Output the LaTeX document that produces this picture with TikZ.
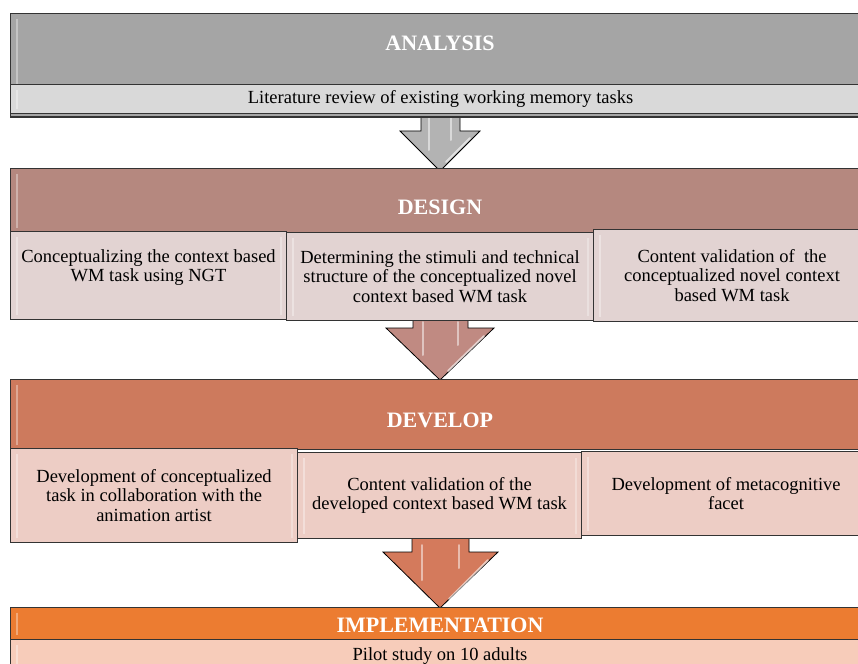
\documentclass[tikz,border=0pt]{standalone}
\usepackage{fontspec}
\setmainfont{Liberation Serif}
\usetikzlibrary{calc}
\definecolor{edge}{HTML}{333333}
\definecolor{anaHead}{HTML}{A5A5A5}
\definecolor{anaSub}{HTML}{D9D9D9}
\definecolor{desHead}{HTML}{B5887F}
\definecolor{desSub}{HTML}{E2D3D2}
\definecolor{devHead}{HTML}{CD7A5D}
\definecolor{devSub}{HTML}{EDCDC5}
\definecolor{impHead}{HTML}{EC7C31}
\definecolor{impSub}{HTML}{F7CCBA}
\definecolor{arrGray}{HTML}{B3B3B3}
\definecolor{arrRose}{HTML}{C08A82}
\definecolor{arrTerra}{HTML}{D47A5C}
\tikzset{
  bevel/.style={path picture={
    \draw[white,opacity=0.35,line width=2pt]
      ([xshift=6pt,yshift=-5pt]path picture bounding box.north west) --
      ([xshift=6pt,yshift=5pt]path picture bounding box.south west);
    \draw[white,opacity=0.3,line width=2pt]
      ([xshift=-6pt,yshift=-5pt]path picture bounding box.north east) --
      ([xshift=-6pt,yshift=5pt]path picture bounding box.south east);}},
  phasehead/.style={draw=edge,line width=1.1pt,rectangle,anchor=north west,
    inner sep=0pt,bevel},
  headtext/.style={text=white,font=\fontsize{22}{25}\selectfont\bfseries},
  subbox/.style={draw=edge,line width=1.1pt,rectangle,anchor=north west,
    inner sep=2pt,align=center,text=black,font=\fontsize{18.5}{19.5}\selectfont,bevel},
  blockarrow/.style={draw=black,line width=0.8pt,fill=#1,line join=miter},
  shine/.style={white,opacity=0.5,line width=2pt,line cap=round}
}
\begin{document}
\begin{tikzpicture}[x=1pt,y=-1pt]
\useasboundingbox (0,0) rectangle (858,663);
\clip (0,0) rectangle (858,663);

% ---- block arrows (drawn first, boxes sit over their ends)
\coordinate (t1) at (440,171);
\coordinate (t2) at (440,380);
\coordinate (t3) at (440,608);
\draw[blockarrow=arrGray] (421,110) -- (460,110) -- (460,131) -- (480,131) -- (t1) -- (400,131) -- (421,131) -- cycle;
\draw[shine] (429,118) -- (429,150);
\draw[shine] (451,118) -- (451,140);
\draw[shine,opacity=0.6] (470,138) -- (446,162);

\draw[blockarrow=arrRose] (413,300) -- (468,300) -- (468,328) -- (494,328) -- (t2) -- (386,328) -- (413,328) -- cycle;
\draw[shine] (423,322) -- (423,355);
\draw[shine] (458,322) -- (458,345);
\draw[shine,opacity=0.6] (484,336) -- (448,371);

\draw[blockarrow=arrTerra] (412,530) -- (469,530) -- (469,552) -- (498,552) -- (t3) -- (383,552) -- (412,552) -- cycle;
\draw[shine] (422,545) -- (422,580);
\draw[shine] (459,545) -- (459,568);
\draw[shine,opacity=0.6] (488,560) -- (449,599);

% ---- ANALYSIS
\node[phasehead,fill=anaHead,minimum width=860pt,minimum height=103pt] (ana) at (10,13) {};
\node[headtext] (anaT) at (440,43) {ANALYSIS};
\node[subbox,fill=anaSub,minimum width=860pt,minimum height=29pt] (ana1) at (10,84)
  {Literature review of existing working memory tasks};
\draw[edge,line width=1.1pt] (ana.south west) -- (ana.south east);

% ---- DESIGN
\node[phasehead,fill=desHead,minimum width=860pt,minimum height=64pt] (des) at (10,168) {};
\node[headtext] (desT) at (440,207) {DESIGN};
\node[subbox,fill=desSub,minimum width=276pt,minimum height=88pt] (des1) at (10,231)
  {Conceptualizing the context based\\WM task using NGT\\\mbox{}};
\node[subbox,fill=desSub,minimum width=307pt,minimum height=88pt] (des2) at (286,232)
  {Determining the stimuli and technical\\structure of the conceptualized novel\\context based WM task};
\node[subbox,fill=desSub,minimum width=277pt,minimum height=92pt] (des3) at (593,229)
  {Content validation of \ the\\conceptualized novel context\\based WM task};

% ---- DEVELOP
\node[phasehead,fill=devHead,minimum width=860pt,minimum height=70pt] (dev) at (10,379) {};
\node[headtext] (devT) at (440,420) {DEVELOP};
\node[subbox,fill=devSub,minimum width=287pt,minimum height=94pt] (dev1) at (10,448)
  {Development of conceptualized\\task in collaboration with the\\animation artist};
\node[subbox,fill=devSub,minimum width=284pt,minimum height=86pt] (dev2) at (297,452)
  {Content validation of the\\developed context based WM task};
\node[subbox,fill=devSub,minimum width=289pt,minimum height=84pt] (dev3) at (581,451)
  {Development of metacognitive\\facet};

% ---- IMPLEMENTATION
\node[phasehead,fill=impHead,minimum width=860pt,minimum height=32pt] (imp) at (10,607) {};
\node[headtext] (impT) at (440,625) {IMPLEMENTATION};
\node[subbox,fill=impSub,minimum width=860pt,minimum height=40pt] (imp1) at (10,639) {};
\node[font=\fontsize{18.5}{19.5}\selectfont] (imp1T) at (440,656) {Pilot study on 10 adults};
\end{tikzpicture}
\end{document}
